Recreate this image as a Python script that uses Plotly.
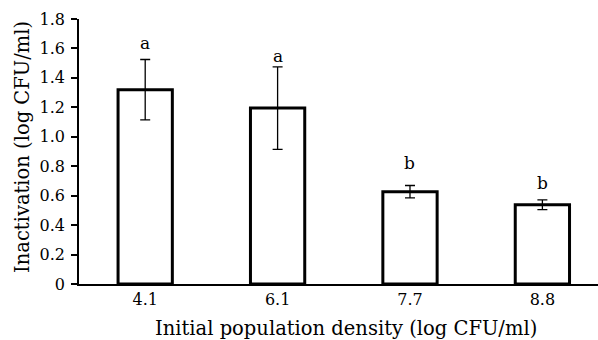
import plotly.graph_objects as go

categories = ["4.1", "6.1", "7.7", "8.8"]
values = [1.32, 1.195, 0.627, 0.538]
errors = [0.205, 0.28, 0.042, 0.033]
letters = ["a", "a", "b", "b"]
letter_y = [1.637, 1.549, 0.822, 0.686]
ytick_vals = [0, 0.2, 0.4, 0.6, 0.8, 1.0, 1.2, 1.4, 1.6, 1.8]
ytick_text = ["0", "0.2", "0.4", "0.6", "0.8", "1.0", "1.2", "1.4", "1.6", "1.8"]
x_title = "Initial population density (log CFU/ml)"
y_title = "Inactivation (log CFU/ml)"

xpos = list(range(len(categories)))
font = "DejaVu Serif"

fig = go.Figure()
fig.add_trace(go.Bar(
    x=xpos, y=values, width=0.41,
    marker=dict(color="white", line=dict(color="black", width=3)),
    error_y=dict(type="data", array=errors, color="black", thickness=1.3, width=5),
    showlegend=False,
))
for x, ly, l in zip(xpos, letter_y, letters):
    fig.add_annotation(x=x, y=ly, text=l, showarrow=False, yanchor="middle",
                       font=dict(family=font, size=17, color="black"))

fig.add_annotation(xref="paper", yref="paper", x=0.5135, y=-0.168,
                   xanchor="center", yanchor="middle", showarrow=False,
                   text=x_title, font=dict(family=font, size=19.5, color="black"))
fig.add_annotation(xref="paper", yref="paper", x=-0.1079, y=0.517,
                   xanchor="center", yanchor="middle", showarrow=False, textangle=-90,
                   text=y_title, font=dict(family=font, size=19.5, color="black"))

fig.update_layout(
    width=598, height=340,
    margin=dict(l=79, r=0, t=19, b=56),
    paper_bgcolor="white", plot_bgcolor="white",
    font=dict(family=font, size=16, color="black"),
    xaxis=dict(range=[-0.5, 3.42], tickvals=xpos, ticktext=categories,
               showline=True, linecolor="black", linewidth=1.5, ticks="",
               showgrid=False, zeroline=False,
               tickfont=dict(family=font, size=16, color="black")),
    yaxis=dict(range=[0, 1.8], tickvals=ytick_vals, ticktext=ytick_text,
               showline=True, linecolor="black", linewidth=1.5,
               ticks="outside", ticklen=6, tickcolor="black", tickwidth=1.5,
               ticklabelstandoff=3,
               showgrid=False, zeroline=False,
               tickfont=dict(family=font, size=16, color="black")),
)

fig.write_html("out.html")
